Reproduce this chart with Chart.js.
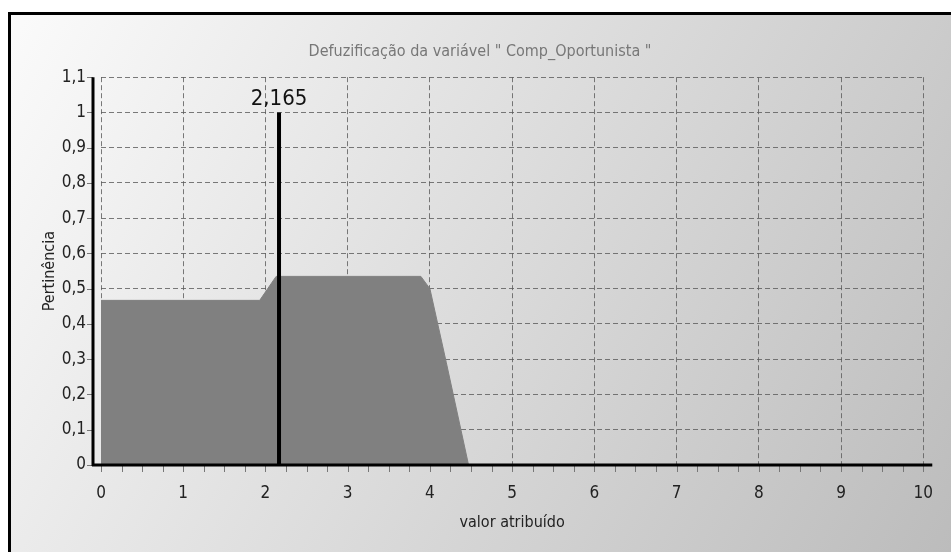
<!DOCTYPE html>
<html>
<head>
<meta charset="utf-8">
<script src="https://cdn.jsdelivr.net/npm/chart.js@4/dist/chart.umd.min.js"></script>
<style>
html,body{margin:0;padding:0;background:#fff;}
#wrap{width:951px;height:552px;}
</style>
</head>
<body>
<div id="wrap"><canvas id="c" width="951" height="552"></canvas></div>
<script>
// ---- data ----
const xValues    = [0, 1.93, 2.13, 3.89, 4.0, 4.2, 4.47];
const membership = [0.467, 0.467, 0.535, 0.535, 0.5, 0.29, 0];
const defuzzValue  = 2.165;
const defuzzHeight = 1;
const xTickValues = [0, 1, 2, 3, 4, 5, 6, 7, 8, 9, 10];
const xTickLabels = ['0', '1', '2', '3', '4', '5', '6', '7', '8', '9', '10'];
const yTickValues = [0, 0.1, 0.2, 0.3, 0.4, 0.5, 0.6, 0.7, 0.8, 0.9, 1, 1.1];
const yTickLabels = ['0', '0,1', '0,2', '0,3', '0,4', '0,5', '0,6', '0,7', '0,8', '0,9', '1', '1,1'];
const chartTitle = 'Defuzificação da variável " Comp_Oportunista "';
const xTitle = 'valor atribuído';
const yTitle = 'Pertinência';

const FONT = "'Liberation Sans Narrow', 'Arial Narrow', 'DejaVu Sans Condensed', 'Liberation Sans', sans-serif";

const decor = {
  id: 'decor',
  beforeDraw(chart) {
    const ctx = chart.ctx, W = chart.width, H = chart.height;
    ctx.save();
    ctx.fillStyle = '#ffffff';
    ctx.fillRect(0, 0, W, H);
    const g = ctx.createLinearGradient(8, 13, W, H);
    g.addColorStop(0, '#fbfbfb');
    g.addColorStop(1, '#bcbcbc');
    ctx.fillStyle = g;
    ctx.fillRect(8, 13, W - 8, H - 13);
    ctx.strokeStyle = '#000';
    ctx.lineWidth = 3;
    ctx.beginPath();
    ctx.moveTo(9.5, H);
    ctx.lineTo(9.5, 13.5);
    ctx.lineTo(W, 13.5);
    ctx.stroke();
    ctx.restore();
  },
  afterDatasetsDraw(chart) {
    const ctx = chart.ctx, xs = chart.scales.x, ys = chart.scales.y;
    const axX = xs.getPixelForValue(xTickValues[0]) - 8;
    const y0 = ys.getPixelForValue(yTickValues[0]);
    const yTop = ys.getPixelForValue(yTickValues[yTickValues.length - 1]);
    const xEnd = xs.getPixelForValue(xTickValues[xTickValues.length - 1]) + 9;
    ctx.save();
    // y ticks
    ctx.strokeStyle = '#777';
    ctx.lineWidth = 1;
    yTickValues.forEach(v => {
      const p = Math.round(ys.getPixelForValue(v)) + 0.5;
      ctx.beginPath(); ctx.moveTo(axX - 6, p); ctx.lineTo(axX, p); ctx.stroke();
    });
    // x minor ticks (quarter units)
    const n = (xTickValues[xTickValues.length - 1] - xTickValues[0]) * 4;
    for (let i = 0; i <= n; i++) {
      const p = Math.round(xs.getPixelForValue(xTickValues[0] + i / 4)) + 0.5;
      ctx.beginPath(); ctx.moveTo(p, y0 + 1); ctx.lineTo(p, y0 + 7); ctx.stroke();
    }
    // axis lines
    ctx.strokeStyle = '#000';
    ctx.lineWidth = 3;
    ctx.beginPath(); ctx.moveTo(axX, yTop); ctx.lineTo(axX, y0 + 1); ctx.stroke();
    ctx.beginPath(); ctx.moveTo(axX - 1, y0); ctx.lineTo(xEnd, y0); ctx.stroke();
    // defuzzified value label
    ctx.fillStyle = '#111';
    ctx.font = '22px ' + FONT;
    ctx.textAlign = 'center';
    ctx.textBaseline = 'alphabetic';
    ctx.fillText(String(defuzzValue).replace('.', ','), xs.getPixelForValue(defuzzValue), ys.getPixelForValue(defuzzHeight) - 7);
    ctx.restore();
  }
};

new Chart(document.getElementById('c'), {
  type: 'line',
  data: {
    datasets: [
      {
        label: 'defuzz',
        data: [{x: defuzzValue, y: 0}, {x: defuzzValue, y: defuzzHeight}],
        borderColor: '#000',
        borderWidth: 4,
        pointRadius: 0,
        fill: false
      },
      {
        label: 'area',
        data: xValues.map((x, i) => ({x: x, y: membership[i]})),
        borderColor: '#808080',
        borderWidth: 1,
        backgroundColor: '#808080',
        pointRadius: 0,
        tension: 0,
        fill: 'origin'
      }
    ]
  },
  options: {
    responsive: false,
    devicePixelRatio: 1,
    animation: false,
    events: [],
    layout: { padding: { top: 0, left: 34, right: 25, bottom: 0 } },
    plugins: {
      legend: { display: false },
      tooltip: { enabled: false },
      title: {
        display: true,
        text: chartTitle,
        color: '#777',
        font: { family: FONT, size: 16, weight: 'normal' },
        padding: { top: 42, bottom: 16 }
      }
    },
    scales: {
      x: {
        type: 'linear',
        min: xTickValues[0],
        max: xTickValues[xTickValues.length - 1],
        afterBuildTicks(scale) { scale.ticks = xTickValues.map(v => ({value: v})); },
        afterFit(scale) { scale.height = 87; },
        ticks: {
          callback: (v, i) => xTickLabels[i],
          color: '#222',
          font: { family: FONT, size: 17 },
          padding: 18,
          maxRotation: 0,
          autoSkip: false
        },
        grid: { color: 'rgba(90,90,90,0.8)', lineWidth: 1, drawTicks: false },
        border: { display: false, dash: [5, 3] },
        title: {
          display: true,
          text: xTitle,
          color: '#222',
          font: { family: FONT, size: 16 },
          padding: { top: 0, bottom: 20 }
        }
      },
      y: {
        type: 'linear',
        min: yTickValues[0],
        max: yTickValues[yTickValues.length - 1],
        afterBuildTicks(scale) { scale.ticks = yTickValues.map(v => ({value: v})); },
        afterFit(scale) { scale.width = 67; },
        ticks: {
          callback: (v, i) => yTickLabels[i],
          color: '#222',
          font: { family: FONT, size: 17 },
          padding: 15,
          autoSkip: false
        },
        grid: { color: 'rgba(90,90,90,0.8)', lineWidth: 1, drawTicks: false },
        border: { display: false, dash: [5, 3] },
        title: {
          display: true,
          text: yTitle,
          color: '#222',
          font: { family: FONT, size: 16 },
          padding: { top: 6, bottom: 0 }
        }
      }
    }
  },
  plugins: [decor]
});
</script>
</body>
</html>
